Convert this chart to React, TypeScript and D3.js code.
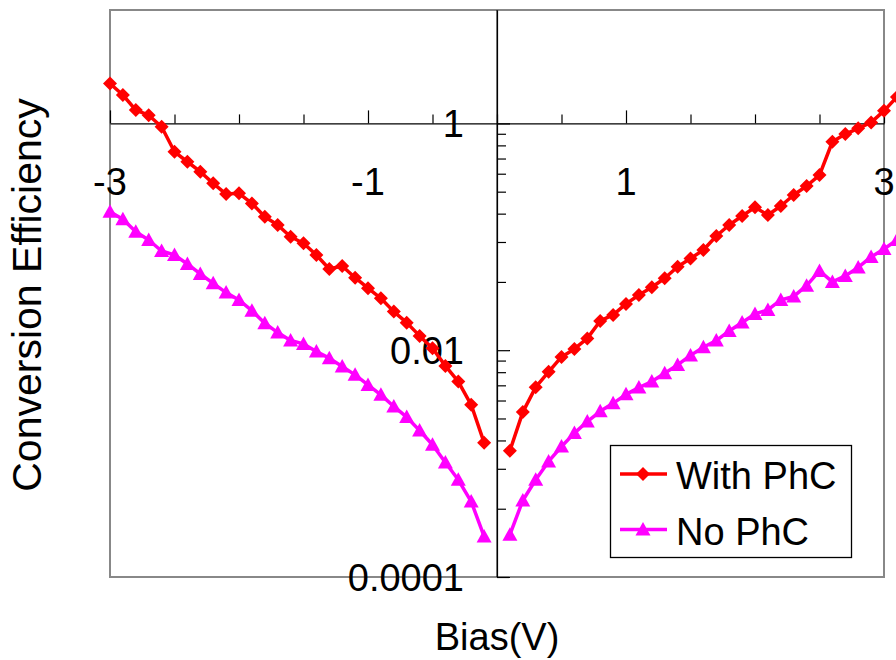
import React, { useEffect, useRef } from 'react';
import * as d3 from 'd3';

// bias voltage (V), 0.1 V steps
const biasNeg = [-3.0, -2.9, -2.8, -2.7, -2.6, -2.5, -2.4, -2.3, -2.2, -2.1, -2.0, -1.9, -1.8, -1.7, -1.6,
    -1.5, -1.4, -1.3, -1.2, -1.1, -1.0, -0.9, -0.8, -0.7, -0.6, -0.5, -0.4, -0.3, -0.2, -0.1];
const biasPos = [0.1, 0.2, 0.3, 0.4, 0.5, 0.6, 0.7, 0.8, 0.9, 1.0, 1.1, 1.2, 1.3, 1.4, 1.5, 1.6,
    1.7, 1.8, 1.9, 2.0, 2.1, 2.2, 2.3, 2.4, 2.5, 2.6, 2.7, 2.8, 2.9, 3.0, 3.1];

const withPhCNeg = [2.25, 1.78, 1.31, 1.18, 0.933, 0.562, 0.459, 0.375, 0.296, 0.238, 0.242, 0.197, 0.150, 0.127, 0.100,
    0.0877, 0.0691, 0.052, 0.0553, 0.0436, 0.0352, 0.0287, 0.0219, 0.0175, 0.01337, 0.01042, 0.00727, 0.00529, 0.0033, 0.00153];
const noPhCNeg = [0.1664, 0.1426, 0.1109, 0.0937, 0.0750, 0.0691, 0.0576, 0.0470, 0.0389, 0.0322, 0.0277, 0.0223, 0.0173, 0.01429, 0.01219,
    0.01137, 0.00972, 0.00851, 0.00717, 0.00606, 0.00494, 0.00404, 0.00319, 0.00257, 0.00196, 0.001465, 0.001023, 0.00072, 0.000463, 0.000228];

const withPhCPos = [0.001297, 0.002844, 0.00472, 0.00644, 0.00873, 0.01026, 0.01271, 0.01812, 0.02047, 0.02559, 0.0307, 0.0359, 0.0431,
    0.0545, 0.0644, 0.0765, 0.1016, 0.127, 0.1525, 0.182, 0.1556, 0.1868, 0.2336, 0.2803, 0.350, 0.689, 0.805, 0.904, 1.02, 1.29, 1.71];
const noPhCPos = [0.000236, 0.000473, 0.00072, 0.001044, 0.001415, 0.001857, 0.00235, 0.00289, 0.0034, 0.00408, 0.00468, 0.00529, 0.00627,
    0.00742, 0.009, 0.01062, 0.01216, 0.01479, 0.01758, 0.02089, 0.02265, 0.02774, 0.02979, 0.0371, 0.05, 0.04, 0.0452, 0.0537, 0.0664, 0.0781, 0.0937];

const xMajorTicks = [-3, -1, 1, 3];
const xMinorTicks = [-2.5, -2, -1.5, -0.5, 0, 0.5, 1.5, 2, 2.5];
const xTickLabels = ['-3', '-1', '1', '3'];
const yMajorTicks = [1, 0.01, 0.0001];
const yMinorTicks = [0.81, 0.64, 0.49, 0.36, 0.25, 0.16, 0.09, 0.04,
    0.0081, 0.0064, 0.0049, 0.0036, 0.0025, 0.0016, 0.0009, 0.0004];
const yTickLabels = ['1', '0.01', '0.0001'];

const series = [
    { name: 'With PhC', color: '#ff0000', marker: 'diamond', neg: withPhCNeg, pos: withPhCPos },
    { name: 'No PhC', color: '#ff00ff', marker: 'triangle', neg: noPhCNeg, pos: noPhCPos },
];

const FONT = '"Liberation Sans", Arial, sans-serif';

const markerPath = (kind) => kind === 'diamond'
    ? 'M0,-7L7,0L0,7L-7,0Z'
    : 'M0,-7.5L7.5,6L-7.5,6Z';

const App = () => {
    const ref = useRef(null);

    useEffect(() => {
        const width = 896, height = 660;
        const plot = { left: 110, right: 884, top: 10, bottom: 577 };

        d3.select(ref.current).selectAll('*').remove();
        const svg = d3.select(ref.current)
            .attr('width', width)
            .attr('height', height);

        const x = d3.scaleLinear().domain([-3, 3]).range([plot.left, plot.right]);
        const y = d3.scaleLog().domain([0.0001, 10]).range([plot.bottom, plot.top]);
        const x0 = x(0), y1 = y(1);

        // gray plot frame
        svg.append('rect')
            .attr('x', plot.left).attr('y', plot.top)
            .attr('width', plot.right - plot.left).attr('height', plot.bottom - plot.top)
            .attr('fill', 'none').attr('stroke', '#888').attr('stroke-width', 2);

        // x axis crossing at y = 1
        const xAxis = svg.append('g').attr('transform', `translate(0,${y1})`);
        xAxis.call(d3.axisTop(x).tickValues(xMinorTicks).tickSize(9).tickSizeOuter(0).tickFormat(() => ''));
        xAxis.call(g => g.select('.domain').remove());
        const xAxisMajor = svg.append('g').attr('transform', `translate(0,${y1})`);
        xAxisMajor.call(d3.axisTop(x).tickValues(xMajorTicks).tickSize(13).tickSizeOuter(0).tickFormat(() => ''));

        // y axis crossing at x = 0
        const yAxis = svg.append('g').attr('transform', `translate(${x0},0)`);
        yAxis.call(d3.axisRight(y).tickValues(yMinorTicks).tickSize(9).tickSizeOuter(0).tickFormat(() => ''));
        yAxis.call(g => g.select('.domain').remove());
        const yAxisMajor = svg.append('g').attr('transform', `translate(${x0},0)`);
        yAxisMajor.call(d3.axisRight(y).tickValues(yMajorTicks).tickSize(13).tickSizeOuter(0).tickFormat(() => ''));
        svg.append('line')
            .attr('x1', x0).attr('x2', x0).attr('y1', plot.top).attr('y2', plot.bottom)
            .attr('stroke', '#000').attr('stroke-width', 1);

        svg.selectAll('g path.domain, g .tick line').attr('stroke', '#000').attr('stroke-width', 1.2);

        // tick labels
        svg.selectAll('.xlab')
            .data(xMajorTicks)
            .enter()
            .append('text')
            .attr('x', d => x(d))
            .attr('y', 195)
            .attr('text-anchor', 'middle')
            .attr('font-family', FONT).attr('font-size', 38)
            .text((d, i) => xTickLabels[i]);

        svg.selectAll('.ylab')
            .data(yMajorTicks)
            .enter()
            .append('text')
            .attr('x', 464)
            .attr('y', d => y(d) + 14)
            .attr('text-anchor', 'end')
            .attr('font-family', FONT).attr('font-size', 38)
            .text((d, i) => yTickLabels[i]);

        // data
        const line = d3.line().x(d => x(d[0])).y(d => y(d[1]));
        series.forEach(s => {
            [[biasNeg, s.neg], [biasPos, s.pos]].forEach(([bx, vals]) => {
                const pts = bx.map((b, i) => [b, vals[i]]);
                svg.append('path')
                    .datum(pts)
                    .attr('d', line)
                    .attr('fill', 'none')
                    .attr('stroke', s.color)
                    .attr('stroke-width', 3.5)
                    .attr('stroke-linejoin', 'round');
                svg.append('g')
                    .selectAll('path')
                    .data(pts)
                    .enter()
                    .append('path')
                    .attr('d', markerPath(s.marker))
                    .attr('transform', d => `translate(${x(d[0])},${y(d[1])})`)
                    .attr('fill', s.color);
            });
        });

        // legend
        const legend = svg.append('g');
        legend.append('rect')
            .attr('x', 610.5).attr('y', 445.5).attr('width', 241).attr('height', 112)
            .attr('fill', '#fff').attr('stroke', '#000').attr('stroke-width', 1.3);
        series.forEach((s, i) => {
            const ly = 474 + i * 55.5;
            legend.append('line')
                .attr('x1', 620).attr('x2', 667).attr('y1', ly).attr('y2', ly)
                .attr('stroke', s.color).attr('stroke-width', 3.5);
            legend.append('path')
                .attr('d', markerPath(s.marker))
                .attr('transform', `translate(643,${ly})`)
                .attr('fill', s.color);
            legend.append('text')
                .attr('x', 676).attr('y', ly + 15)
                .attr('font-family', FONT).attr('font-size', 38)
                .text(s.name);
        });

        // axis titles
        svg.append('text')
            .attr('transform', 'translate(41,295) rotate(-90)')
            .attr('text-anchor', 'middle')
            .attr('font-family', FONT).attr('font-size', 41)
            .text('Conversion Efficiency');
        svg.append('text')
            .attr('x', 497).attr('y', 650)
            .attr('text-anchor', 'middle')
            .attr('font-family', FONT).attr('font-size', 38)
            .text('Bias(V)');
    }, []);

    return (
        <svg ref={ref} style={{ position: 'absolute', left: 0, top: 0, background: '#fff' }} />
    );
};

export default App;
